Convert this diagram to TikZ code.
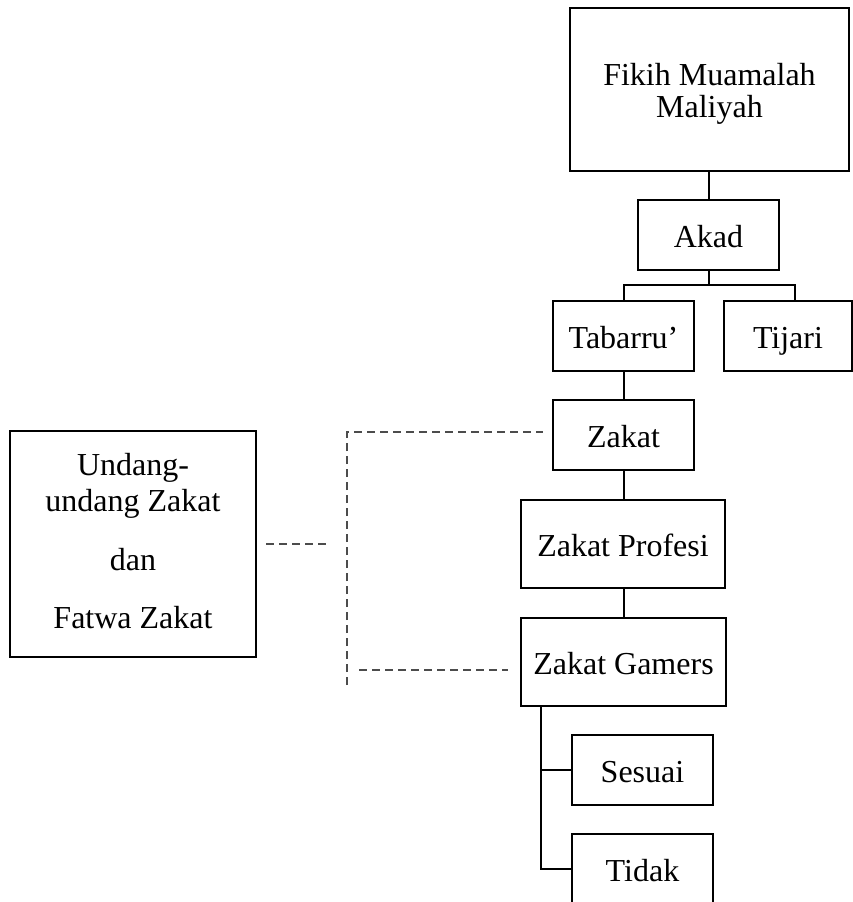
\documentclass[tikz,border=0pt]{standalone}
\usepackage{fontspec}
\setmainfont{Liberation Serif}
\usetikzlibrary{calc}
\begin{document}
\begin{tikzpicture}[x=0.5pt,y=-0.5pt,
  box/.style={draw,line width=1pt,inner sep=0pt,align=center,font=\fontsize{16}{16}\selectfont},
  single/.style={box,text height=14pt,text depth=1.5pt},
  link/.style={line width=1pt},
  dashlink/.style={draw=black!70,line width=0.75pt,dash pattern=on 4pt off 2.5pt}]
\clip (0,0) rectangle (853,902);
\useasboundingbox (0,0) rectangle (853,902);
\node[box,minimum width=139.5pt,minimum height=81.5pt] (fikih) at (709.5,89.5) {\rule{0pt}{15pt}Fikih Muamalah\\Maliyah};
\node[single,minimum width=70.5pt,minimum height=35pt] (akad) at (708.5,235) {Akad};
\node[single,minimum width=70.5pt,minimum height=35pt] (tab) at (623.5,336) {Tabarru’};
\node[single,minimum width=64pt,minimum height=35pt] (tij) at (788,336) {Tijari};
\node[single,minimum width=70.5pt,minimum height=35pt] (zakat) at (623.5,435) {Zakat};
\node[single,minimum width=102pt,minimum height=44pt] (prof) at (623,544) {Zakat Profesi};
\node[single,minimum width=102.5pt,minimum height=44pt] (gam) at (623.5,662) {Zakat Gamers};
\node[single,minimum width=70.5pt,minimum height=35pt] (ses) at (642.5,770) {Sesuai};
\node[single,minimum width=70.5pt,minimum height=35pt] (tid) at (642.5,869) {Tidak};
\node[box,minimum width=123pt,minimum height=113pt,font=\fontsize{16}{18}\selectfont] (uu) at (133,544) {Undang-\\undang Zakat\\[11.5pt]dan\\[11pt]Fatwa Zakat\rule[-3pt]{0pt}{0pt}};
% solid connectors
\coordinate (br) at (708.5,285);
\coordinate (tjtop) at (795,301);
\draw[link] (akad.north |- fikih.south) -- (akad.north);
\draw[link] (akad.south) -- (br);
\draw[link] (tab.north) |- (br) -| (tjtop);
\draw[link] (tab.south) -- (zakat.north);
\draw[link] (zakat.south) -- (zakat.south |- prof.north);
\draw[link] (zakat.south |- prof.south) -- (zakat.south |- gam.north);
\coordinate (gs) at ($(gam.south west)+(21,0)$);
\draw[link] (gs) |- (ses.west);
\draw[link] (gs) |- (tid.west);
% dashed connectors
\coordinate (d1) at (266,544);
\coordinate (d2) at (330,544);
\coordinate (v1) at (347,432);
\coordinate (v2) at (347,685);
\coordinate (t2) at (543,432);
\coordinate (b1) at (359,670);
\coordinate (b2) at (508,670);
\draw[dashlink] (d1) -- (d2);
\draw[dashlink] (v2) -- (v1) -- (t2);
\draw[dashlink] (b1) -- (b2);
\end{tikzpicture}
\end{document}
